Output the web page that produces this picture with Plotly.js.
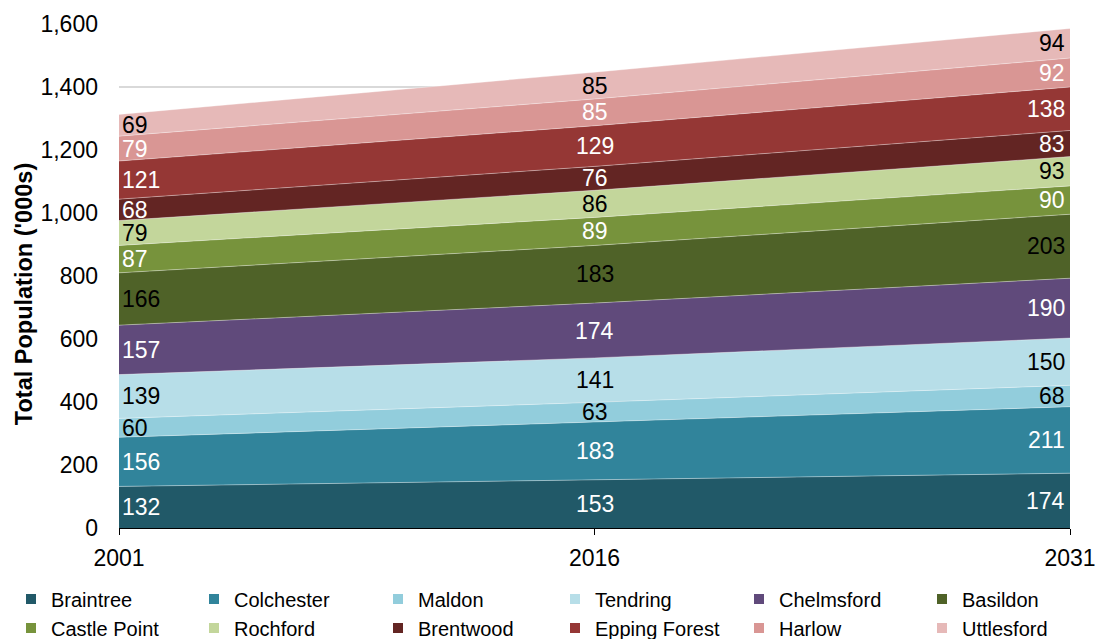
<!DOCTYPE html>
<html>
<head>
<meta charset="utf-8">
<script src="https://cdn.plot.ly/plotly-3.0.1.min.js"></script>
<style>html,body{margin:0;padding:0;background:#fff;}#chart{width:1102px;height:639px;}</style>
</head>
<body>
<div id="chart"></div>
<script>
const years = [2001, 2016, 2031];
const districts = ['Braintree','Colchester','Maldon','Tendring','Chelmsford','Basildon','Castle Point','Rochford','Brentwood','Epping Forest','Harlow','Uttlesford'];
const braintree    = [132, 153, 174];
const colchester   = [156, 183, 211];
const maldon       = [60, 63, 68];
const tendring     = [139, 141, 150];
const chelmsford   = [157, 174, 190];
const basildon     = [166, 183, 203];
const castlePoint  = [87, 89, 90];
const rochford     = [79, 86, 93];
const brentwood    = [68, 76, 83];
const eppingForest = [121, 129, 138];
const harlow       = [79, 85, 92];
const uttlesford   = [69, 85, 94];
const yTicks = [0, 200, 400, 600, 800, 1000, 1200, 1400, 1600];
const yTitle = "Total Population ('000s)";

const seriesValues = [braintree, colchester, maldon, tendring, chelmsford, basildon, castlePoint, rochford, brentwood, eppingForest, harlow, uttlesford];
const colors = ['#215968','#31849B','#92CDDC','#B7DEE8','#604A7B','#4F6228','#77933C','#C3D69B','#632523','#953735','#D99694','#E6B9B8'];
const labelColors = ['#fff','#fff','#000','#000','#fff','#000','#fff','#000','#fff','#fff','#fff','#000'];

const FONT = '"Liberation Sans", Arial, sans-serif';
const traces = [];
const annotations = [];
const cum = years.map(() => 0);

seriesValues.forEach((vals, i) => {
  traces.push({
    type: 'scatter', mode: 'lines', x: years, y: vals,
    stackgroup: 'one', name: districts[i], showlegend: false,
    line: {width: 0.8, color: 'rgba(255,255,255,0.45)'},
    fillcolor: colors[i], hoverinfo: 'x+y+name'
  });
  vals.forEach((v, j) => {
    const last = years.length - 1;
    const anchor = j === 0 ? 'left' : (j === last ? 'right' : 'center');
    annotations.push({
      x: years[j], y: cum[j] + v / 2, xref: 'x', yref: 'y',
      text: String(v), showarrow: false,
      xanchor: anchor, yanchor: 'middle',
      xshift: j === 0 ? 1 : (j === last ? -3 : 0),
      font: {family: FONT, size: 23, color: labelColors[i]}
    });
    cum[j] += v;
  });
});

// y-axis title placed as rotated text, as in the reference
annotations.push({
  xref: 'paper', yref: 'paper', x: -0.0999, y: 0.464,
  xanchor: 'center', yanchor: 'middle', textangle: -90, showarrow: false,
  text: '<b>' + yTitle + '</b>',
  font: {family: FONT, size: 23.5, color: '#000'}
});

// legend columns: 6 small vertical legends, 2 entries each
const legendColumnOf = [0,1,2,3,4,5,0,1,2,3,4,5];
const legendIds = ['legend','legend2','legend3','legend4','legend5','legend6'];
districts.forEach((d, i) => {
  traces.push({
    type: 'scatter', mode: 'markers', x: [null], y: [null], name: d,
    marker: {color: colors[i], symbol: 'square', size: 10, line: {width: 0}},
    showlegend: true, hoverinfo: 'skip', legend: legendIds[legendColumnOf[i]]
  });
});

const layout = {
  width: 1102, height: 639,
  margin: {l: 119, r: 32, t: 24, b: 111, autoexpand: false},
  paper_bgcolor: '#fff', plot_bgcolor: '#fff',
  font: {family: FONT, size: 21, color: '#000'},
  showlegend: true,
  xaxis: {
    type: 'linear', range: [2001, 2031], tickvals: years, ticktext: years.map(String),
    showgrid: false, zeroline: false, showline: true, linecolor: '#000', linewidth: 1,
    ticks: 'outside', ticklen: 6, tickcolor: '#000', tickwidth: 1,
    ticklabelstandoff: 3,
    tickfont: {family: FONT, size: 23, color: '#000'}
  },
  yaxis: {
    range: [0, 1600], tickvals: yTicks, tickformat: ',',
    showgrid: true, gridcolor: '#d9d9d9', gridwidth: 1.3,
    zeroline: false, showline: false, ticks: '',
    ticklabelstandoff: 20,
    tickfont: {family: FONT, size: 23, color: '#000'}
  },
  annotations: annotations
};

// legend text start positions (px)
const legendTextX = [52, 235, 419, 596, 780, 963];
legendIds.forEach((id, k) => {
  layout[id] = {
    orientation: 'v', x: (legendTextX[k] - 41 - 119) / 951, xanchor: 'left',
    y: -0.102, yanchor: 'top', traceorder: 'normal',
    font: {family: FONT, size: 20, color: '#000'},
    itemwidth: 30, tracegroupgap: 0, bgcolor: 'rgba(0,0,0,0)', borderwidth: 0
  };
});

Plotly.newPlot('chart', traces, layout, {displayModeBar: false, staticPlot: true});
</script>
</body>
</html>
